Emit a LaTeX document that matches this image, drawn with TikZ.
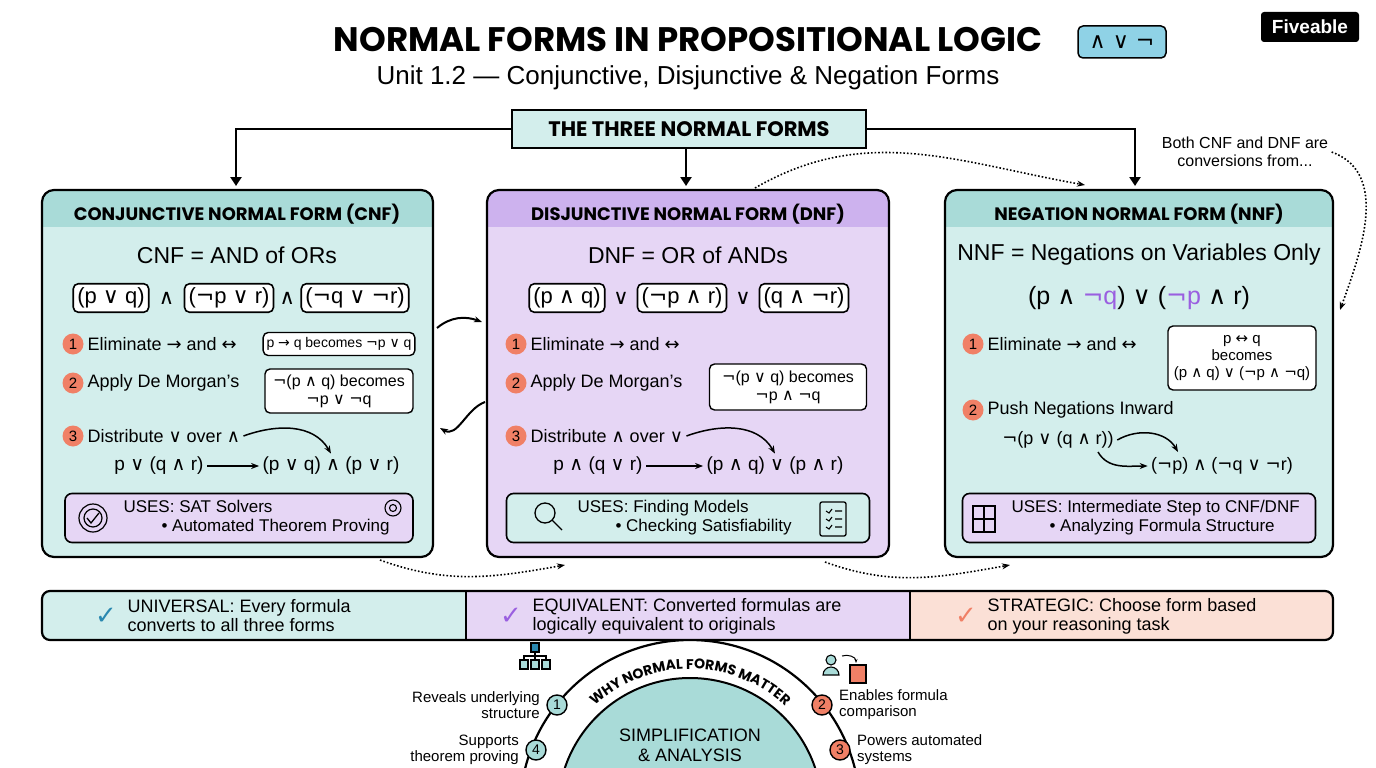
\documentclass[tikz,border=0pt]{standalone}
\usepackage{fontspec}
\setmainfont{Liberation Sans}
\newfontfamily\symf{DejaVu Sans}
\newfontfamily\headf{Poppins}
\usetikzlibrary{arrows.meta,positioning,decorations.text,calc}
\definecolor{tealbg}{HTML}{D3EEEC}
\definecolor{tealhd}{HTML}{A9DBD8}
\definecolor{purpbg}{HTML}{E6D6F5}
\definecolor{purphd}{HTML}{CDB2EE}
\definecolor{peach}{HTML}{FBE0D6}
\definecolor{numred}{HTML}{F08066}
\definecolor{chkblue}{HTML}{2A88B0}
\definecolor{chkpurp}{HTML}{9A5FE0}
\definecolor{badge}{HTML}{8FD2E6}
\newcommand\mand{{\symf ∧}}
\newcommand\mor{{\symf ∨}}
\newcommand\mneg{{\symf ¬}}
\newcommand\mimp{{\symf →}}
\newcommand\miff{{\symf ↔}}
\tikzset{
  panel/.style={draw=black, line width=2.2pt, rounded corners=12pt},
  clause/.style={draw=black, line width=1.6pt, rounded corners=5pt, fill=white, inner sep=4pt, font=\fontsize{22}{24}\selectfont},
  hint/.style={draw=black, line width=1.4pt, rounded corners=5pt, fill=white, align=center, font=\fontsize{14}{15}\selectfont},
  stepnum/.style={circle, fill=numred, inner sep=0pt, minimum size=21pt, font=\fontsize{15}{15}\selectfont},
  body/.style={anchor=west, font=\fontsize{18}{20}\selectfont},
  hdtext/.style={font=\headf\bfseries\fontsize{18}{20}\selectfont},
  uses/.style={draw=black, line width=1.6pt, rounded corners=7pt},
  flow/.style={-{Triangle[length=9pt,width=11pt]}, line width=2.6pt},
  dots/.style={-{Stealth[length=8pt]}, line width=1.6pt, dotted},
  curv/.style={-{Stealth[length=8pt]}, line width=1.5pt},
  ring/.style={circle, draw=black, line width=1.4pt, inner sep=0pt, minimum size=20pt, font=\fontsize{14}{14}\selectfont},
}
\begin{document}
\begin{tikzpicture}[x=1pt,y=-1pt]
\useasboundingbox[fill=white] (0,0) rectangle (1376,768);
% title
\node[font=\headf\bfseries\fontsize{34}{36}\selectfont] (title) at (688,40) {NORMAL FORMS IN PROPOSITIONAL LOGIC};
\node[draw=black, line width=1.5pt, fill=badge, rounded corners=5pt, minimum width=88pt, minimum height=32pt, font=\symf\fontsize{22}{22}\selectfont] (badge) at (1122,42) {∧ ∨ ¬};
\node[font=\fontsize{26}{28}\selectfont] (subtitle) at (688,78) {Unit 1.2 — Conjunctive, Disjunctive \& Negation Forms};
\node[fill=black, text=white, rounded corners=3pt, minimum width=98pt, minimum height=30pt, font=\bfseries\fontsize{19}{20}\selectfont] (logo) at (1310,27) {Fiveable};
% top node and arrows
\node[draw=black, line width=2pt, fill=tealbg, minimum width=354pt, minimum height=38pt, hdtext, font=\headf\bfseries\fontsize{21}{22}\selectfont] (three) at (689,129) {THE THREE NORMAL FORMS};
\coordinate (cnfin) at (236,186);
\coordinate (dnfin) at (686,186);
\coordinate (nnfin) at (1135,186);
\draw[flow] (three.west) -| (cnfin);
\draw[flow] (three.east) -| (nnfin);
\draw[flow] (three.south -| dnfin) -- (dnfin);
\node[align=center, font=\fontsize{16}{18}\selectfont] (both) at (1245,152) {Both CNF and DNF are\\conversions from...};
% panels
\foreach \xa/\xb/\bg/\hd in {42/433/tealbg/tealhd, 487/889/purpbg/purphd, 945/1333/tealbg/tealhd}{
  \begin{scope}
    \clip[rounded corners=12pt] (\xa,190) rectangle (\xb,557);
    \fill[\bg] (\xa,190) rectangle (\xb,557);
    \fill[\hd] (\xa,190) rectangle (\xb,227);
  \end{scope}
  \draw[panel] (\xa,190) rectangle (\xb,557);
}
% ---- CNF
\node[hdtext] (cnfhd) at (237,214) {CONJUNCTIVE NORMAL FORM (CNF)};
\node[font=\fontsize{23}{25}\selectfont] (cnfdef) at (237,255) {CNF = AND of ORs};
\node[clause] (c1) at (111,298) {(p \mor\ q)};
\node[clause] (c2) at (229,298) {(\mneg p \mor\ r)};
\node[clause] (c3) at (355,298) {(\mneg q \mor\ \mneg r)};
\node[font=\fontsize{21}{24}\selectfont] at ($(c1.east)!0.5!(c2.west)$) {\mand};
\node[font=\fontsize{21}{24}\selectfont] at ($(c2.east)!0.5!(c3.west)$) {\mand};
\node[stepnum] (cs1) at (73,344) {1};
\node[body] (ct1) at (84,344) {Eliminate \mimp\ and \miff};
\node[hint, minimum width=148pt, minimum height=23pt] (ch1) at (339,344) {p \mimp\ q becomes \mneg p \mor\ q};
\node[stepnum] (cs2) at (73,383) {2};
\node[body] (ct2) at (84,383) {Apply De Morgan's};
\node[hint, font=\fontsize{16}{18}\selectfont, minimum width=148pt, minimum height=44pt] (ch2) at (339,391) {\mneg(p \mand\ q) becomes\\\mneg p \mor\ \mneg q};
\node[stepnum] (cs3) at (73,436) {3};
\node[body] (ct3) at (84,436) {Distribute \mor\ over \mand};
\node[font=\fontsize{19}{21}\selectfont] (cl) at (159,466) {p \mor\ (q \mand\ r)};
\node[font=\fontsize{19}{21}\selectfont] (cr) at (331,466) {(p \mor\ q) \mand\ (p \mor\ r)};
\draw[-{Stealth[length=8pt]}, line width=1.4pt] (cl) -- (cr);
\draw[curv] (ct3.east) to[out=20, in=120] (cr.north);
\node[uses, fill=purpbg, minimum width=348pt, minimum height=49pt] (cu) at (239,518) {};
\node[anchor=west, font=\fontsize{17}{19}\selectfont, align=left] (cut) at (120,518) {USES: SAT Solvers\\\hspace{38pt}• Automated Theorem Proving};
\draw[line width=1.2pt] (93,518) circle (14pt) (93,518) circle (9pt);
\draw[line width=1.3pt] (87,518) -- (91,523) -- (99,513);
\draw[line width=1.1pt] (393,508) circle (8pt) (393,508) circle (3.5pt);
% ---- DNF
\node[hdtext] (dnfhd) at (688,214) {DISJUNCTIVE NORMAL FORM (DNF)};
\node[font=\fontsize{23}{25}\selectfont] (dnfdef) at (688,255) {DNF = OR of ANDs};
\node[clause] (d1) at (567,298) {(p \mand\ q)};
\node[clause] (d2) at (682,298) {(\mneg p \mand\ r)};
\node[clause] (d3) at (804,298) {(q \mand\ \mneg r)};
\node[font=\fontsize{21}{24}\selectfont] at ($(d1.east)!0.5!(d2.west)$) {\mor};
\node[font=\fontsize{21}{24}\selectfont] at ($(d2.east)!0.5!(d3.west)$) {\mor};
\node[stepnum] (ds1) at (516,344) {1};
\node[body] (dt1) at (527,344) {Eliminate \mimp\ and \miff};
\node[stepnum] (ds2) at (516,383) {2};
\node[body] (dt2) at (527,383) {Apply De Morgan's};
\node[hint, font=\fontsize{16}{18}\selectfont, minimum width=157pt, minimum height=46pt] (dh2) at (788,387) {\mneg(p \mor\ q) becomes\\\mneg p \mand\ \mneg q};
\node[stepnum] (ds3) at (516,436) {3};
\node[body] (dt3) at (527,436) {Distribute \mand\ over \mor};
\node[font=\fontsize{19}{21}\selectfont] (dl) at (598,466) {p \mand\ (q \mor\ r)};
\node[font=\fontsize{19}{21}\selectfont] (dr) at (775,466) {(p \mand\ q) \mor\ (p \mand\ r)};
\draw[-{Stealth[length=8pt]}, line width=1.4pt] (dl) -- (dr);
\draw[curv] (dt3.east) to[out=20, in=120] (dr.north);
\node[uses, fill=tealbg, minimum width=363pt, minimum height=49pt] (du) at (688,518) {};
\node[anchor=west, font=\fontsize{17}{19}\selectfont, align=left] (dut) at (574,518) {USES: Finding Models\\\hspace{38pt}• Checking Satisfiability};
\draw[line width=1.3pt] (545,513) circle (10pt) (552,520) -- (562,530);
\draw[line width=1.3pt, rounded corners=2pt] (820,502) rectangle (846,536);
\foreach \yy in {511,519,527}{\draw[line width=1.1pt] (826,\yy) -- (829,\yy+2) -- (832,\yy-2) (835,\yy) -- (842,\yy);}
% ---- NNF
\node[hdtext] (nnfhd) at (1139,214) {NEGATION NORMAL FORM (NNF)};
\node[font=\fontsize{23}{25}\selectfont] (nnfdef) at (1139,255) {NNF = Negations on Variables Only};
\node[font=\fontsize{25}{27}\selectfont] (nnfex) at (1139,298) {(p \mand\ \textcolor{chkpurp}{\mneg q}) \mor\ (\textcolor{chkpurp}{\mneg p} \mand\ r)};
\node[stepnum] (ns1) at (973,344) {1};
\node[body] (nt1) at (984,344) {Eliminate \mimp\ and \miff};
\node[hint, font=\fontsize{15}{17}\selectfont, minimum width=148pt, minimum height=64pt] (nh1) at (1242,358) {p \miff\ q\\becomes\\(p \mand\ q) \mor\ (\mneg p \mand\ \mneg q)};
\node[stepnum] (ns2) at (973,410) {2};
\node[body] (nt2) at (984,410) {Push Negations Inward};
\node[font=\fontsize{18}{20}\selectfont] (nl) at (1058,440) {\mneg(p \mor\ (q \mand\ r))};
\node[font=\fontsize{18}{20}\selectfont] (nr) at (1222,466) {(\mneg p) \mand\ (\mneg q \mor\ \mneg r)};
\draw[curv] (nl.east) to[out=30, in=120] (1178,452);
\draw[curv] (1098,452) to[out=-60, in=180] (nr.west);
\node[uses, fill=purpbg, minimum width=353pt, minimum height=49pt] (nu) at (1139,518) {};
\node[anchor=west, font=\fontsize{17}{19}\selectfont, align=left] (nut) at (1008,518) {USES: Intermediate Step to CNF/DNF\\\hspace{38pt}• Analyzing Formula Structure};
\draw[line width=1.2pt] (973,506) rectangle (995,532) (984,506) -- (984,532) (973,519) -- (995,519);
% links between panels
\coordinate (cnfr1) at (437,328);
\coordinate (dnfl1) at (482,322);
\coordinate (dnfl2) at (485,402);
\coordinate (cnfr2) at (440,428);
\draw[curv, line width=2pt] (cnfr1) to[out=40, in=160] (dnfl1);
\draw[curv, line width=2pt] (dnfl2) to[out=200, in=-30] (cnfr2);
\draw[dots] (755,188) to[out=30, in=170] (1085,185);
\draw[dots] (both.east) to[out=-20, in=70] (1340,310);
\draw[dots] (380,560) to[out=-20, in=190] (565,565);
\draw[dots] (825,562) to[out=-20, in=190] (1010,565);
% bottom band
\begin{scope}
  \clip[rounded corners=8pt] (42,591) rectangle (1333,640);
  \fill[tealbg] (42,591) rectangle (466,640);
  \fill[purpbg] (466,591) rectangle (910,640);
  \fill[peach] (910,591) rectangle (1333,640);
\end{scope}
\draw[line width=2.2pt, rounded corners=8pt] (42,591) rectangle (1333,640);
\draw[line width=1.2pt] (466,591) -- (466,640) (910,591) -- (910,640);
\node[text=chkblue, font=\symf\bfseries\fontsize{26}{26}\selectfont] (k1) at (106,616) {✓};
\node[anchor=west, align=left, font=\fontsize{18}{19}\selectfont] (b1) at (124,616) {UNIVERSAL: Every formula\\converts to all three forms};
\node[text=chkpurp, font=\symf\bfseries\fontsize{26}{26}\selectfont] (k2) at (511,616) {✓};
\node[anchor=west, align=left, font=\fontsize{18}{19}\selectfont] (b2) at (529,616) {EQUIVALENT: Converted formulas are\\logically equivalent to originals};
\node[text=numred, font=\symf\bfseries\fontsize{26}{26}\selectfont] (k3) at (966,616) {✓};
\node[anchor=west, align=left, font=\fontsize{18}{19}\selectfont] (b3) at (984,616) {STRATEGIC: Choose form based\\on your reasoning task};
% bottom arch
\begin{scope}
  \clip (0,641) rectangle (1376,768);
  \draw[line width=2.2pt, fill=white] (690,810) circle (170pt);
  \draw[line width=2pt, fill=tealhd] (690,810) circle (132pt);
\end{scope}
\begin{scope}[shift={(690,810)}, y=1pt]
  \path[decorate, decoration={text along path, text align=center, text={|\headf\bfseries\fontsize{14}{14}\selectfont|WHY NORMAL FORMS MATTER}}] (145:141) arc[start angle=145, end angle=35, radius=141];
\end{scope}
\node[align=center, font=\fontsize{18}{20}\selectfont] (simp) at (690,745) {SIMPLIFICATION\\\& ANALYSIS};
\node[ring, fill=tealhd] (r1) at (557,705) {1};
\node[ring, fill=numred] (r2) at (822,705) {2};
\node[ring, fill=numred] (r3) at (840,750) {3};
\node[ring, fill=tealhd] (r4) at (536,750) {4};
\node[left=3pt of r1, align=right, font=\fontsize{15}{16}\selectfont] (l1) {Reveals underlying\\structure};
\node[right=3pt of r2, align=left, font=\fontsize{15}{16}\selectfont] (l2) {Enables formula\\comparison};
\node[right=3pt of r3, align=left, font=\fontsize{15}{16}\selectfont] (l3) {Powers automated\\systems};
\node[left=3pt of r4, align=right, font=\fontsize{15}{16}\selectfont] (l4) {Supports\\theorem proving};
% small icons
\draw[line width=1.1pt, fill=chkblue] (531,643) rectangle (539,652);
\draw[line width=1.1pt] (535,652) -- (535,656) (524,660) -- (524,656) -- (546,656) -- (546,660) (535,656) -- (535,660);
\foreach \xx in {524,535,546}{\draw[line width=1.1pt, fill=tealhd] (\xx-4,660) rectangle (\xx+4,669);}
\draw[line width=1.1pt, fill=tealhd] (831,660) circle (5pt);
\draw[line width=1.1pt, fill=tealhd] (823,675) arc[start angle=180, end angle=0, radius=8pt] -- cycle;
\draw[line width=1.1pt, fill=numred] (850,665) rectangle (866,683);
\draw[-{Stealth[length=4pt]}, line width=1pt] (842,656) to[out=20, in=90] (856,663);
\end{tikzpicture}
\end{document}
